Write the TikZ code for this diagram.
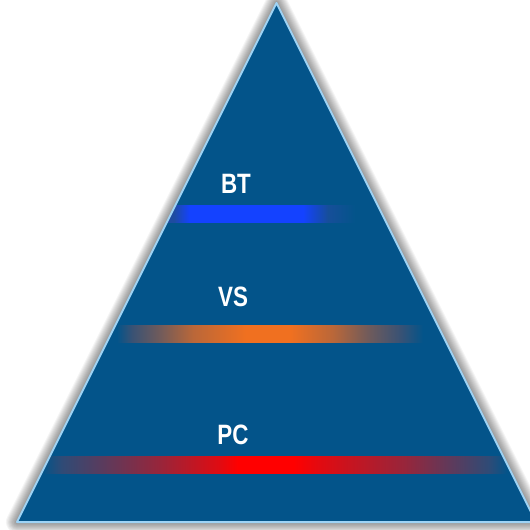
\documentclass[tikz,border=0pt]{standalone}
\usepackage{fontspec}
\setmainfont{Liberation Sans}
\definecolor{tri}{HTML}{03548A}
\definecolor{triedge}{HTML}{9ED3F5}
\definecolor{btc}{HTML}{1442FF}
\definecolor{btend}{HTML}{1E4CA0}
\definecolor{vsc}{HTML}{F07020}
\definecolor{vsend}{HTML}{3A5274}
\definecolor{pcc}{HTML}{FF0000}
\definecolor{pcend}{HTML}{2F4B76}
\colorlet{vsmid}{vsc!70!vsend}
\colorlet{vslow}{vsc!30!vsend}
\colorlet{pcmid}{pcc!50!pcend}
\colorlet{pcnear}{pcc!85!pcend}
\colorlet{btfade}{btend!70!tri}
\pgfdeclarehorizontalshading{btshade}{100bp}{color(0bp)=(btend); color(25bp)=(btend); color(28bp)=(btend); color(32.25bp)=(btc); color(61.5bp)=(btc); color(68bp)=(btfade); color(75bp)=(tri); color(100bp)=(tri)}
\pgfdeclarehorizontalshading{vsshade}{100bp}{color(0bp)=(tri); color(25bp)=(tri); color(27.5bp)=(vsend); color(32bp)=(vslow); color(37.4bp)=(vsmid); color(46bp)=(vsc); color(53.3bp)=(vsc); color(60.3bp)=(vsmid); color(66bp)=(vslow); color(71.2bp)=(vsend); color(75bp)=(tri); color(100bp)=(tri)}
\pgfdeclarehorizontalshading{pcshade}{100bp}{color(0bp)=(tri); color(25bp)=(tri); color(27bp)=(pcend); color(37.5bp)=(pcmid); color(44bp)=(pcnear); color(46bp)=(pcc); color(52bp)=(pcc); color(55bp)=(pcnear); color(64bp)=(pcmid); color(73bp)=(pcend); color(75bp)=(tri); color(100bp)=(tri)}
\tikzset{
  lbl/.style={text=white, font=\bfseries\fontsize{28}{30}\selectfont, inner sep=0pt}
}
\begin{document}
\begin{tikzpicture}[x=1pt,y=-1pt]
\useasboundingbox (0,0) rectangle (530,530);
\clip (0,0) rectangle (530,530);
\fill[white] (0,0) rectangle (530,530);
\coordinate (A) at (276.5,3);
\coordinate (L) at (17,522);
\coordinate (R) at (536,522);
% soft shadow
\foreach \w in {2,4,...,22}{
  \draw[black, opacity=0.045, line width=\w pt, line join=round, xshift=-4pt, yshift=-2pt] (A) -- (L) -- (R) -- cycle;
}
\fill[tri] (A) -- (L) -- (R) -- cycle;
% bars
\begin{scope}
\clip (A) -- (L) -- (R) -- cycle;
\shade[shading=btshade] (162,205) rectangle (355,222);
\shade[shading=vsshade] (117,325) rectangle (423,342);
\shade[shading=pcshade] (43,456) rectangle (507,473);
\end{scope}
\draw[triedge, line width=2pt, line join=round] (A) -- (L) -- (R) -- cycle;
% labels
\node[lbl] (bt) at (236,184) {\scalebox{0.8}[1]{BT}};
\node[lbl] (vs) at (233,297) {\scalebox{0.8}[1]{VS}};
\node[lbl] (pc) at (233,435) {\scalebox{0.8}[1]{PC}};
\end{tikzpicture}
\end{document}
